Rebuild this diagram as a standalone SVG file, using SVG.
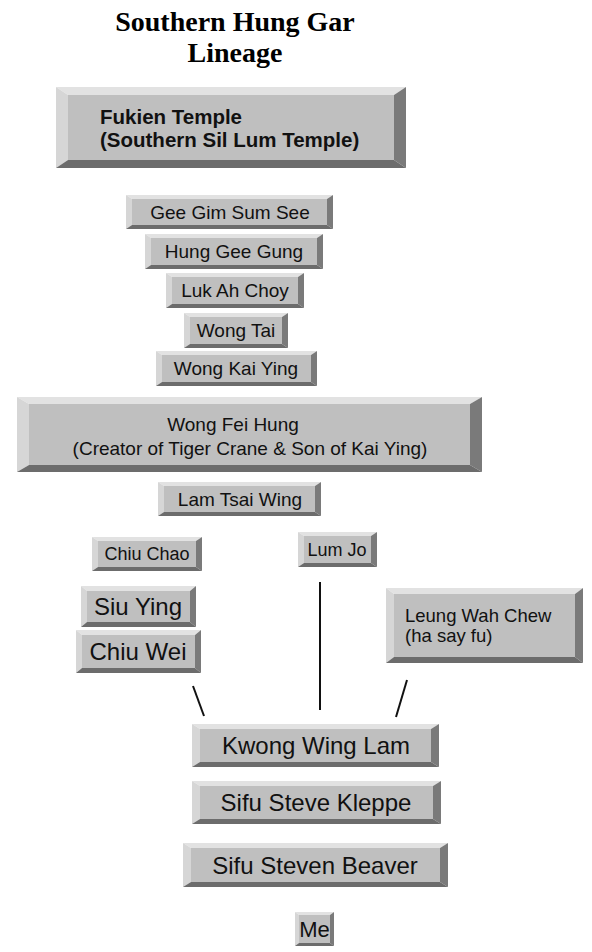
<svg xmlns="http://www.w3.org/2000/svg" width="592" height="952" viewBox="0 0 592 952">
<style>
.t{fill:#e2e2e2}.l{fill:#d6d6d6}.r{fill:#7a7a7a}.b{fill:#6c6c6c}.f{fill:#bfbfbf}
text{font-family:"Liberation Sans",Arial,sans-serif;fill:#111;text-anchor:middle}
.title{font-family:"Liberation Serif","Times New Roman",serif;font-weight:bold;font-size:28px;fill:#000}
.s18{font-size:18px}.s19{font-size:19px}.s24{font-size:24px}
.conn line{stroke:#111;stroke-width:2}
</style>
<rect width="592" height="952" fill="#fff"/>
<g id="title">
<text class="title" x="235" y="31">Southern Hung Gar</text>
<text class="title" x="235" y="62">Lineage</text>
</g>
<g id="fukien">
<polygon class="t" points="56,87 406,87 394,95 68,95"/>
<polygon class="l" points="56,87 68,95 68,160 56,168"/>
<polygon class="r" points="406,87 406,168 394,160 394,95"/>
<polygon class="b" points="56,168 406,168 394,160 68,160"/>
<rect class="f" x="68" y="95" width="326" height="65"/>
<text x="100" y="124" style="text-anchor:start;font-weight:bold;font-size:20.5px">Fukien Temple</text>
<text x="100" y="147" style="text-anchor:start;font-weight:bold;font-size:20.5px">(Southern Sil Lum Temple)</text>
</g>
<g id="gee-gim-sum-see">
<polygon class="t" points="126,195 333,195 327,199 132,199"/>
<polygon class="l" points="126,195 132,199 132,225 126,229"/>
<polygon class="r" points="333,195 333,229 327,225 327,199"/>
<polygon class="b" points="126,229 333,229 327,225 132,225"/>
<rect class="f" x="132" y="199" width="195" height="26"/>
<text class="s19" x="230" y="219">Gee Gim Sum See</text>
</g>
<g id="hung-gee-gung">
<polygon class="t" points="145,234 323,234 317,238 151,238"/>
<polygon class="l" points="145,234 151,238 151,265 145,269"/>
<polygon class="r" points="323,234 323,269 317,265 317,238"/>
<polygon class="b" points="145,269 323,269 317,265 151,265"/>
<rect class="f" x="151" y="238" width="166" height="27"/>
<text class="s19" x="234" y="258">Hung Gee Gung</text>
</g>
<g id="luk-ah-choy">
<polygon class="t" points="166,273 304,273 298,277 172,277"/>
<polygon class="l" points="166,273 172,277 172,304 166,308"/>
<polygon class="r" points="304,273 304,308 298,304 298,277"/>
<polygon class="b" points="166,308 304,308 298,304 172,304"/>
<rect class="f" x="172" y="277" width="126" height="27"/>
<text class="s19" x="235" y="297">Luk Ah Choy</text>
</g>
<g id="wong-tai">
<polygon class="t" points="184,313 288,313 282,317 190,317"/>
<polygon class="l" points="184,313 190,317 190,344 184,348"/>
<polygon class="r" points="288,313 288,348 282,344 282,317"/>
<polygon class="b" points="184,348 288,348 282,344 190,344"/>
<rect class="f" x="190" y="317" width="92" height="27"/>
<text class="s19" x="236" y="337">Wong Tai</text>
</g>
<g id="wong-kai-ying">
<polygon class="t" points="156,351 317,351 311,355 162,355"/>
<polygon class="l" points="156,351 162,355 162,382 156,386"/>
<polygon class="r" points="317,351 317,386 311,382 311,355"/>
<polygon class="b" points="156,386 317,386 311,382 162,382"/>
<rect class="f" x="162" y="355" width="149" height="27"/>
<text class="s19" x="236" y="375">Wong Kai Ying</text>
</g>
<g id="wong-fei-hung">
<polygon class="t" points="17,397 482,397 470,404 29,404"/>
<polygon class="l" points="17,397 29,404 29,465 17,472"/>
<polygon class="r" points="482,397 482,472 470,465 470,404"/>
<polygon class="b" points="17,472 482,472 470,465 29,465"/>
<rect class="f" x="29" y="404" width="441" height="61"/>
<text class="s19" x="233" y="431">Wong Fei Hung</text>
<text class="s19" x="250" y="455">(Creator of Tiger Crane &amp; Son of Kai Ying)</text>
</g>
<g id="lam-tsai-wing">
<polygon class="t" points="158,482 321,482 315,486 164,486"/>
<polygon class="l" points="158,482 164,486 164,512 158,516"/>
<polygon class="r" points="321,482 321,516 315,512 315,486"/>
<polygon class="b" points="158,516 321,516 315,512 164,512"/>
<rect class="f" x="164" y="486" width="151" height="26"/>
<text class="s19" x="240" y="506">Lam Tsai Wing</text>
</g>
<g id="chiu-chao">
<polygon class="t" points="92,537 202,537 196,541 98,541"/>
<polygon class="l" points="92,537 98,541 98,567 92,571"/>
<polygon class="r" points="202,537 202,571 196,567 196,541"/>
<polygon class="b" points="92,571 202,571 196,567 98,567"/>
<rect class="f" x="98" y="541" width="98" height="26"/>
<text class="s18" x="147" y="560">Chiu Chao</text>
</g>
<g id="lum-jo">
<polygon class="t" points="298,532 377,532 371,536 304,536"/>
<polygon class="l" points="298,532 304,536 304,563 298,567"/>
<polygon class="r" points="377,532 377,567 371,563 371,536"/>
<polygon class="b" points="298,567 377,567 371,563 304,563"/>
<rect class="f" x="304" y="536" width="67" height="27"/>
<text class="s18" x="337" y="556">Lum Jo</text>
</g>
<g id="siu-ying">
<polygon class="t" points="81,586 196,586 190,591 87,591"/>
<polygon class="l" points="81,586 87,591 87,622 81,627"/>
<polygon class="r" points="196,586 196,627 190,622 190,591"/>
<polygon class="b" points="81,627 196,627 190,622 87,622"/>
<rect class="f" x="87" y="591" width="103" height="31"/>
<text class="s24" x="138" y="615">Siu Ying</text>
</g>
<g id="chiu-wei">
<polygon class="t" points="76,630 201,630 195,635 82,635"/>
<polygon class="l" points="76,630 82,635 82,668 76,673"/>
<polygon class="r" points="201,630 201,673 195,668 195,635"/>
<polygon class="b" points="76,673 201,673 195,668 82,668"/>
<rect class="f" x="82" y="635" width="113" height="33"/>
<text class="s24" x="138" y="660">Chiu Wei</text>
</g>
<g id="leung-wah-chew">
<polygon class="t" points="386,588 583,588 575,594 394,594"/>
<polygon class="l" points="386,588 394,594 394,657 386,663"/>
<polygon class="r" points="583,588 583,663 575,657 575,594"/>
<polygon class="b" points="386,663 583,663 575,657 394,657"/>
<rect class="f" x="394" y="594" width="181" height="63"/>
<text x="405" y="622" style="text-anchor:start;font-size:18.5px">Leung Wah Chew</text>
<text x="405" y="642" style="text-anchor:start;font-size:18.5px">(ha say fu)</text>
</g>
<g id="kwong-wing-lam">
<polygon class="t" points="192,724 439,724 431,729 200,729"/>
<polygon class="l" points="192,724 200,729 200,762 192,767"/>
<polygon class="r" points="439,724 439,767 431,762 431,729"/>
<polygon class="b" points="192,767 439,767 431,762 200,762"/>
<rect class="f" x="200" y="729" width="231" height="33"/>
<text class="s24" x="316" y="754">Kwong Wing Lam</text>
</g>
<g id="sifu-steve-kleppe">
<polygon class="t" points="192,781 441,781 433,786 200,786"/>
<polygon class="l" points="192,781 200,786 200,819 192,824"/>
<polygon class="r" points="441,781 441,824 433,819 433,786"/>
<polygon class="b" points="192,824 441,824 433,819 200,819"/>
<rect class="f" x="200" y="786" width="233" height="33"/>
<text class="s24" x="316" y="811">Sifu Steve Kleppe</text>
</g>
<g id="sifu-steven-beaver">
<polygon class="t" points="183,843 448,843 440,848 191,848"/>
<polygon class="l" points="183,843 191,848 191,882 183,887"/>
<polygon class="r" points="448,843 448,887 440,882 440,848"/>
<polygon class="b" points="183,887 448,887 440,882 191,882"/>
<rect class="f" x="191" y="848" width="249" height="34"/>
<text class="s24" x="315" y="873.5">Sifu Steven Beaver</text>
</g>
<g id="me">
<polygon class="t" points="295,912 334,912 330,915 299,915"/>
<polygon class="l" points="295,912 299,915 299,943 295,946"/>
<polygon class="r" points="334,912 334,946 330,943 330,915"/>
<polygon class="b" points="295,946 334,946 330,943 299,943"/>
<rect class="f" x="299" y="915" width="31" height="28"/>
<text x="314.5" y="937" style="font-size:22px">Me</text>
</g>
<g id="connectors" class="conn">
<line x1="193" y1="686" x2="204" y2="716"/>
<line x1="320" y1="582" x2="320" y2="710"/>
<line x1="407" y1="680" x2="396" y2="717"/>
</g>
</svg>
